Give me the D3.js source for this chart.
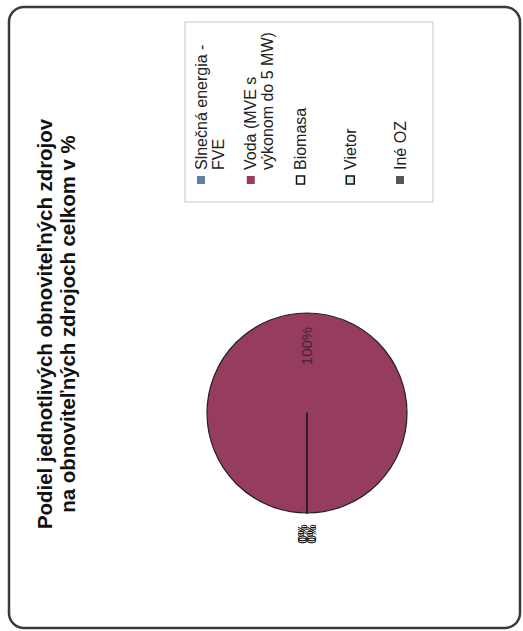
<!DOCTYPE html>
<html>
<head>
<meta charset="utf-8">
<script src="https://cdn.jsdelivr.net/npm/d3@7"></script>
<style>
  html, body { margin: 0; padding: 0; background: #fff; }
  svg { display: block; }
</style>
</head>
<body>
<div id="chart"></div>
<script>
// ---- data ----
const categories = ["Slnečná energia -\nFVE", "Voda (MVE s\nvýkonom do 5 MW)", "Biomasa", "Vietor", "Iné OZ"];
const values = [0, 100, 0, 0, 0];
const percentLabels = ["0%", "100%", "0%", "0%", "0%"];
const colors = ["#5d7fa8", "#963c5e", "#ffffff", "#d2f0e6", "#555555"];
const titleLines = ["Podiel jednotlivých obnoviteľných zdrojov", "na obnoviteľných zdrojoch celkom v %"];

// ---- page / frame ----
const PW = 523, PH = 631;   // page
const W = PH, H = PW;       // chart drawn landscape, then rotated -90°
const font = "'Liberation Sans', Arial, Helvetica, sans-serif";

const svg = d3.select("#chart").append("svg")
  .attr("width", PW).attr("height", PH);

const g = svg.append("g")
  .attr("transform", `translate(0,${PH}) rotate(-90)`);

// outer rounded frame
g.append("rect")
  .attr("x", 3).attr("y", 9)
  .attr("width", W - 10).attr("height", H - 12)
  .attr("rx", 15).attr("ry", 15)
  .attr("fill", "#fff")
  .attr("stroke", "#3a3a3a").attr("stroke-width", 2.5);

// title
const titleX = 307;
g.append("text")
  .attr("x", titleX).attr("y", 52)
  .attr("text-anchor", "middle")
  .attr("font-family", font).attr("font-weight", "bold").attr("font-size", 20.4)
  .attr("fill", "#111")
  .selectAll("tspan").data(titleLines).join("tspan")
  .attr("x", titleX).attr("dy", (d, i) => i === 0 ? 0 : 23)
  .text(d => d);

// pie
const cx = 218, cy = 307, r = 100;
const pie = d3.pie().sort(null).value(d => d)
  .startAngle(-Math.PI / 2).endAngle(1.5 * Math.PI);
const arcs = pie(values);
const arc = d3.arc().innerRadius(0).outerRadius(r);
const pg = g.append("g").attr("transform", `translate(${cx},${cy})`);

pg.selectAll("path.slice").data(arcs).join("path")
  .attr("class", "slice")
  .attr("d", arc)
  .attr("fill", (d, i) => colors[i])
  .attr("stroke", "#222").attr("stroke-width", 1.2)
  .attr("stroke-linejoin", "round");

// labels: inside for the large slice, outside for zero slices
const inArc = d3.arc().innerRadius(r * 0.67).outerRadius(r * 0.67);
const outArc = d3.arc().innerRadius(r * 1.21).outerRadius(r * 1.21);
let zeroIdx = 0;
pg.selectAll("text.lbl").data(arcs).join("text")
  .attr("class", "lbl")
  .each(function (d, i) {
    const big = d.value > 0;
    const [x, y] = big ? inArc.centroid(d) : outArc.centroid(d);
    let dx = 0, dy = 0;
    if (!big) { const k = zeroIdx++; dy = (k % 2 ? 4.5 : -4.5); dx = (k < 2 ? -1 : 1); }
    d3.select(this)
      .attr("x", x + dx).attr("y", y + dy)
      .attr("dy", "0.35em")
      .attr("text-anchor", "middle")
      .attr("font-family", font)
      .attr("font-size", big ? 15 : 12)
      .attr("fill", big ? "#3e2630" : "#000")
      .text(percentLabels[i]);
  });

// legend
const lg = g.append("g");
lg.append("rect")
  .attr("x", 429).attr("y", 185)
  .attr("width", 180).attr("height", 248)
  .attr("fill", "#fff").attr("stroke", "#c8c8c8").attr("stroke-width", 1);

const ly = d3.scalePoint().domain(d3.range(categories.length)).range([201, 400]);
const items = lg.selectAll("g.item").data(categories).join("g")
  .attr("class", "item")
  .attr("transform", (d, i) => `translate(451,${ly(i)})`);

items.append("rect")
  .attr("x", -4).attr("y", -4).attr("width", 8).attr("height", 8)
  .attr("fill", (d, i) => colors[i])
  .attr("stroke", (d, i) => (i === 2 || i === 3) ? "#111" : "none")
  .attr("stroke-width", 1.5);

items.append("text")
  .attr("x", 10).attr("y", 0)
  .attr("font-family", font).attr("font-size", 16).attr("fill", "#222")
  .selectAll("tspan").data(d => d.split("\n")).join("tspan")
  .attr("x", 10)
  .attr("dy", (d, i) => i === 0 ? "0.35em" : 17)
  .text(d => d);
</script>
</body>
</html>
